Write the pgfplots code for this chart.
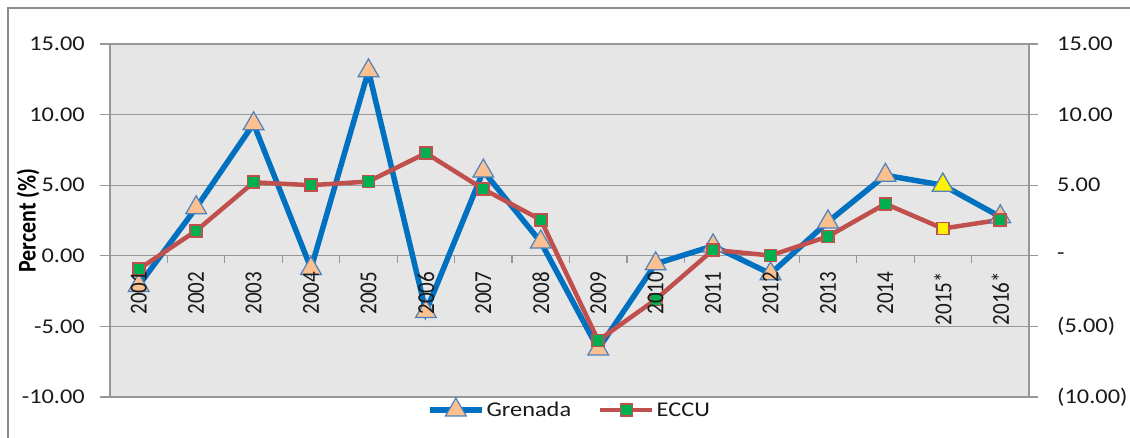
\documentclass[border=0pt]{standalone}
\usepackage{graphicx}
\usepackage{pgfplots}
\pgfplotsset{compat=1.18}
\usepackage{fontspec}
\setmainfont{Carlito}[FakeStretch=1.16]
\newfontfamily\rotfont{Carlito}
\definecolor{gblue}{HTML}{0070C0}
\definecolor{tri}{HTML}{FAC090}
\definecolor{triedge}{HTML}{4F81BD}
\definecolor{ered}{HTML}{C0504D}
\definecolor{egreen}{HTML}{00B050}
\definecolor{axgray}{HTML}{979797}
\definecolor{plotbg}{HTML}{E6E6E6}
\definecolor{framegray}{HTML}{8C8C8C}
\newcommand\xl[1]{\scalebox{1}[1.16]{\rotfont #1}}
\pgfplotsset{
  common/.style={
    at={(110pt,41pt)}, anchor=south west,
    scale only axis, width=919pt, height=353pt,
    xmin=-0.5, xmax=15.5, ymin=-10, ymax=15,
    tick label style={font=\fontsize{21}{25}\selectfont, text=black!90},
  },
}
\begin{document}
\begin{tikzpicture}
\path[use as bounding box] (0pt,0pt) rectangle (1130pt,438pt);
\draw[color=framegray, line width=2pt] (8pt,0pt) -- (8pt,430pt) -- (1130pt,430pt);
\begin{axis}[
  common,
  axis background/.style={fill=plotbg},
  axis x line=middle, axis y line=left,
  axis line style={-, draw=axgray, line width=1.2pt},
  hide obscured x ticks=false, hide obscured y ticks=false,
  xtick={0,...,15},
  xticklabels={},
  major x tick style={draw=none},
  minor xtick={0.5,1.5,...,14.5},
  minor x tick style={draw=axgray, line width=1.2pt},
  xtick align=outside,
  minor tick length=7pt,
  major tick length=10pt,
  ytick={-10,-5,...,15},
  yticklabels={-10.00,-5.00,0.00,5.00,10.00,15.00},
  ytick align=outside,
  y tick style={draw=axgray, line width=1.2pt},
  ymajorgrids, grid style={draw=axgray, line width=1.2pt},
  yticklabel style={inner sep=0pt, xshift=-15pt},
  ylabel={\scalebox{1}[1.16]{\rotfont\bfseries Percent (\%)}},
  ylabel style={at={(axis description cs:-0.0892,0.5)}, anchor=center, font=\fontsize{22}{26}\selectfont},
  legend style={at={(axis description cs:0.5,-0.034)}, anchor=center, legend columns=2, draw=none, fill=none,
    font=\fontsize{21}{25}\selectfont, inner sep=0pt, text=black!90,
    /tikz/every even column/.append style={column sep=25pt}},
  legend image code/.code={\draw[#1, mark repeat=2, mark phase=2] plot coordinates {(0pt,0pt) (26pt,0pt) (52pt,0pt)};},
  clip=false,
]
\addplot[color=gblue, line width=5.5pt, mark=triangle*, mark size=12pt,
  mark options={fill=tri, draw=triedge, line width=1.2pt}]
  coordinates {(0,-2.1)(1,3.4)(2,9.35)(3,-0.9)(4,13.1)(5,-3.95)(6,6.0)(7,0.97)(8,-6.6)(9,-0.57)(10,0.7)(11,-1.27)(12,2.4)(13,5.7)(14,5.0)(15,2.76)};
\addlegendentry{Grenada}
\addplot[forget plot, only marks, mark=triangle*, mark size=12pt,
  mark options={fill=yellow, draw=triedge, line width=1.2pt}]
  coordinates {(14,5.0)};
\addplot[color=ered, line width=4.5pt, mark=square*, mark size=6pt,
  mark options={fill=egreen, draw=ered, line width=1.8pt}]
  coordinates {(0,-0.95)(1,1.77)(2,5.2)(3,5.0)(4,5.26)(5,7.27)(6,4.72)(7,2.55)(8,-6.0)(9,-3.1)(10,0.42)(11,0.02)(12,1.37)(13,3.68)(14,1.93)(15,2.55)};
\addlegendentry{ECCU}
\addplot[forget plot, only marks, mark=square*, mark size=6pt,
  mark options={fill=yellow, draw=ered, line width=1.8pt}]
  coordinates {(14,1.93)};
\end{axis}
\begin{axis}[
  common,
  axis x line=middle, axis y line=none,
  axis line style={draw=none},
  hide obscured x ticks=false,
  xtick={0,...,15},
  xticklabels={\xl{2001},\xl{2002},\xl{2003},\xl{2004},\xl{2005},\xl{2006},\xl{2007},\xl{2008},\xl{2009},\xl{2010},\xl{2011},\xl{2012},\xl{2013},\xl{2014},\xl{2015*},\xl{2016*}},
  major x tick style={draw=none},
  major tick length=7pt,
  xtick align=outside,
  xticklabel style={rotate=90, anchor=east, inner sep=0pt},
  xticklabel shift=9pt,
]
\end{axis}
\begin{axis}[
  common,
  axis x line=none, axis y line*=right,
  axis line style={-, draw=axgray, line width=1.2pt},
  ytick={-10,-5,...,15},
  yticklabels={(10.00),(5.00),-,5.00,10.00,15.00},
  ytick align=outside,
  major tick length=9pt,
  y tick style={draw=axgray, line width=1.2pt},
  yticklabel style={anchor=west, inner sep=0pt, xshift=19pt},
]
\end{axis}
\end{tikzpicture}
\end{document}
